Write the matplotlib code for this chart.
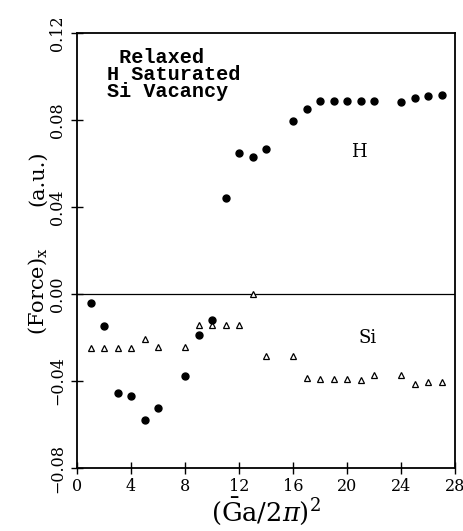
import matplotlib
matplotlib.use("Agg")
import matplotlib.pyplot as plt

plt.rcParams['font.family'] = ['DejaVu Serif']
plt.rcParams['mathtext.fontset'] = 'dejavuserif'

# H data (filled circles)
h_x = [1, 2, 3, 4, 5, 6, 8, 9, 10, 11, 12, 13, 14, 16, 17, 18, 19, 20, 21, 22, 24, 25, 26, 27]
h_y = [-0.0040, -0.0147, -0.0454, -0.0469, -0.0581, -0.0523, -0.0376, -0.0189, -0.0120,
       0.0443, 0.0647, 0.0631, 0.0667, 0.0797, 0.0849, 0.0889, 0.0889, 0.0889, 0.0889,
       0.0889, 0.0883, 0.0900, 0.0910, 0.0915]

# Si data (open triangles)
si_x = [1, 2, 3, 4, 5, 6, 8, 9, 10, 11, 12, 13, 14, 16, 17, 18, 19, 20, 21, 22, 24, 25, 26, 27]
si_y = [-0.0248, -0.0248, -0.0248, -0.0248, -0.0209, -0.0242, -0.0243, -0.0143, -0.0143,
        -0.0143, -0.0143, 0.0000, -0.0285, -0.0285, -0.0386, -0.0391, -0.0391, -0.0391,
        -0.0397, -0.0374, -0.0374, -0.0412, -0.0405, -0.0405]

x_ticks = [0, 4, 8, 12, 16, 20, 24, 28]
y_ticks = [-0.08, -0.04, 0.00, 0.04, 0.08, 0.12]
y_tick_labels = ['−0.08', '−0.04', '0.00', '0.04', '0.08', '0.12']

fig = plt.figure(figsize=(4.64, 5.31), dpi=100)
ax = fig.add_axes([0.166, 0.1186, 0.815, 0.8193])

ax.axhline(0, color='black', lw=0.9, zorder=1)
ax.plot(si_x, si_y, linestyle='none', marker='^', ms=4.5, mfc='white', mec='black', mew=0.9, zorder=2)
ax.plot(h_x, h_y, linestyle='none', marker='o', ms=5, mfc='black', mec='black', zorder=3)

ax.set_xlim(0, 28)
ax.set_ylim(-0.08, 0.12)
ax.set_xticks(x_ticks)
ax.set_yticks(y_ticks)
ax.set_yticklabels(y_tick_labels, rotation=90, va='center')
ax.tick_params(axis='both', direction='inout', length=8, width=1, labelsize=11.5, top=False, right=False)
ax.tick_params(axis='x', pad=3)
ax.tick_params(axis='y', pad=4)
for s in ax.spines.values():
    s.set_linewidth(1.3)

ax.text(0.079, 0.965, " Relaxed\nH Saturated\nSi Vacancy", transform=ax.transAxes,
        family='Liberation Mono', fontweight='bold', fontsize=14.5, va='top', ha='left',
        linespacing=0.85)
ax.text(20.9, 0.0655, "H", fontsize=13, ha='center', va='center')
ax.text(21.5, -0.020, "Si", fontsize=13, ha='center', va='center')

ax.set_xlabel(r"$(\bar{\mathrm{G}}\mathrm{a}/2\pi)^2$", fontsize=18.5, labelpad=1)
fig.text(0.082, 0.452, r"(Force)$_\mathrm{x}$", rotation=90, fontsize=15, ha='center', va='center')
fig.text(0.082, 0.665, "(a.u.)", rotation=90, fontsize=15, ha='center', va='center')

fig.savefig("out.png", dpi=100)
